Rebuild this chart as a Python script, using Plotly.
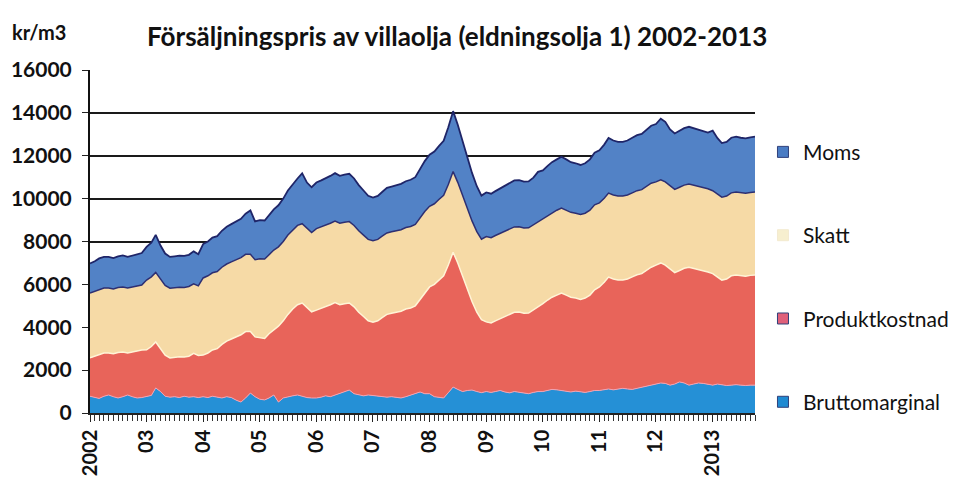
import plotly.graph_objects as go
import pandas as pd

# monthly values, kr/m3, Jan 2002 - Oct 2013
brutto = [
    780, 720, 680, 780, 840, 760, 700, 760, 840, 760, 700, 720,
    760, 820, 1170, 1000, 780, 740, 760, 720, 780, 740, 760, 720,
    760, 720, 780, 740, 700, 760, 720, 600, 510, 700, 930, 760,
    640, 610, 700, 840, 510, 700, 760, 800, 840, 780, 720, 700,
    700, 740, 800, 760, 840, 900, 980, 1070, 900, 840, 800, 840,
    820, 780, 760, 740, 760, 720, 700, 760, 840, 900, 980, 900,
    900, 760, 720, 700, 950, 1210, 1100, 1000, 1050, 1070, 1000, 950,
    1000, 960, 1000, 1050, 980, 940, 1000, 960, 930, 900, 960, 1000,
    1000, 1050, 1100, 1080, 1050, 1000, 980, 1020, 1000, 960, 1000, 1050,
    1050, 1100, 1120, 1080, 1100, 1150, 1120, 1100, 1150, 1200, 1250, 1300,
    1350, 1400, 1380, 1300, 1350, 1450, 1400, 1300, 1350, 1400, 1380, 1350,
    1300, 1350, 1300, 1280, 1300, 1320, 1300, 1280, 1300, 1300,
]
produkt = [
    1790, 1930, 2070, 2020, 1960, 2000, 2120, 2090, 1960, 2090, 2200, 2220,
    2190, 2280, 2140, 2000, 1920, 1830, 1840, 1900, 1830, 1910, 2020, 1960,
    1940, 2080, 2160, 2260, 2500, 2590, 2730, 2950, 3140, 3100, 2870, 2790,
    2860, 2870, 3000, 3060, 3540, 3600, 3840, 4050, 4210, 4350, 4180, 4020,
    4100, 4140, 4150, 4290, 4310, 4150, 4120, 4060, 4050, 3860, 3700, 3460,
    3420, 3520, 3690, 3860, 3890, 3980, 4050, 4090, 4060, 4100, 4320, 4700,
    4980, 5240, 5480, 5700, 5950, 6290, 5900, 5400, 4750, 4130, 3700, 3400,
    3250, 3240, 3300, 3350, 3500, 3660, 3700, 3750, 3720, 3760, 3840, 3940,
    4100, 4220, 4300, 4420, 4550, 4500, 4420, 4340, 4300, 4400, 4500, 4700,
    4830, 5000, 5220, 5170, 5100, 5050, 5130, 5250, 5300, 5300, 5400, 5500,
    5550, 5600, 5520, 5400, 5200, 5200, 5350, 5500, 5400, 5300, 5270, 5230,
    5200, 5000, 4900, 4970, 5100, 5120, 5100, 5100, 5120, 5140,
]
skatt = [
    3030, 3030, 3030, 3030, 3030, 3030, 3030, 3030, 3030, 3030, 3030, 3030,
    3250, 3250, 3250, 3250, 3250, 3250, 3250, 3250, 3250, 3250, 3250, 3250,
    3600, 3600, 3600, 3600, 3600, 3600, 3600, 3600, 3600, 3600, 3600, 3600,
    3700, 3700, 3700, 3700, 3700, 3700, 3700, 3700, 3700, 3700, 3700, 3700,
    3800, 3800, 3800, 3800, 3800, 3800, 3800, 3800, 3800, 3800, 3800, 3800,
    3800, 3800, 3800, 3800, 3800, 3800, 3800, 3800, 3800, 3800, 3800, 3800,
    3760, 3760, 3760, 3760, 3760, 3760, 3760, 3760, 3760, 3760, 3760, 3760,
    3980, 3980, 3980, 3980, 3980, 3980, 3980, 3980, 3980, 3980, 3980, 3980,
    3960, 3960, 3960, 3960, 3960, 3960, 3960, 3960, 3960, 3960, 3960, 3960,
    3920, 3920, 3920, 3920, 3920, 3920, 3920, 3920, 3920, 3920, 3920, 3920,
    3880, 3880, 3880, 3880, 3880, 3880, 3880, 3880, 3880, 3880, 3880, 3880,
    3870, 3870, 3870, 3870, 3870, 3870, 3870, 3870, 3870, 3870,
]
moms = [
    1380, 1400, 1430, 1450, 1450, 1440, 1460, 1470, 1450, 1470, 1480, 1490,
    1550, 1590, 1750, 1560, 1490, 1460, 1460, 1470, 1470, 1480, 1510, 1480,
    1580, 1600, 1640, 1650, 1700, 1740, 1760, 1790, 1810, 1900, 2050, 1790,
    1800, 1800, 1850, 1900, 1940, 2000, 2080, 2140, 2190, 2350, 2150, 2110,
    2150, 2170, 2190, 2210, 2240, 2210, 2220, 2230, 2190, 2130, 2080, 2030,
    2010, 2030, 2060, 2100, 2110, 2130, 2140, 2160, 2180, 2200, 2280, 2350,
    2410, 2440, 2490, 2540, 2670, 2820, 2690, 2540, 2390, 2240, 2120, 2030,
    2060, 2050, 2070, 2100, 2120, 2150, 2170, 2170, 2160, 2160, 2200, 2330,
    2260, 2300, 2340, 2370, 2390, 2370, 2340, 2330, 2310, 2330, 2370, 2430,
    2450, 2500, 2570, 2540, 2530, 2530, 2540, 2570, 2590, 2600, 2640, 2680,
    2700, 2850, 2800, 2650, 2610, 2630, 2660, 2670, 2660, 2650, 2630, 2620,
    2800, 2600, 2520, 2530, 2570, 2580, 2570, 2560, 2570, 2580,
]

year_labels = ["2002", "03", "04", "05", "06", "07", "08", "09", "10", "11", "12", "2013"]
months = pd.date_range("2002-01-01", periods=len(brutto), freq="MS")
year_ticks = pd.date_range("2002-01-01", periods=len(year_labels), freq="YS")

font = "Lato, 'Open Sans', sans-serif"

# name, values, fill, top line, line width, legend marker colour, legend rank
series = [
    ("Bruttomarginal", brutto, "#2590d6", "#f0a3b4", 1, "#1f8ad2", 4),
    ("Produktkostnad", produkt, "#e8645a", "#fff4d6", 1.5, "#e0607a", 3),
    ("Skatt", skatt, "#f6daa6", "#2d2f72", 1.5, "#f7efcf", 2),
    ("Moms", moms, "#5282c6", "#1f2568", 1.8, "#4a7cc4", 1),
]

fig = go.Figure()
for name, vals, fillc, linec, lw, mc, rank in series:
    fig.add_trace(go.Scatter(
        x=months, y=vals, name=name, mode="lines",
        stackgroup="one", showlegend=False,
        fillcolor=fillc, line=dict(color=linec, width=lw),
    ))
# square legend keys
for name, vals, fillc, linec, lw, mc, rank in series:
    fig.add_trace(go.Scatter(
        x=[None], y=[None], name=name, mode="markers",
        legendgroup=name, legendrank=rank,
        marker=dict(symbol="square", size=11, color=mc,
                    line=dict(color="#30407a" if rank != 2 else "#f3ead0", width=1)),
    ))

fig.update_xaxes(
    range=[months[0], months[-1]], automargin=False,
    tickvals=year_ticks, ticktext=year_labels, tickangle=-90,
    ticks="outside", ticklen=7, tickcolor="#222",
    minor=dict(dtick="M1", ticks="outside", ticklen=6, tickcolor="#333", showgrid=False),
    showgrid=False, showline=True, linecolor="#222", linewidth=1.5,
    tickfont=dict(family=font, size=20, color="#111", weight="bold"),
)
fig.update_yaxes(
    range=[0, 16000], dtick=2000, tickformat="d", automargin=False,
    ticks="outside", ticklen=6, tickcolor="#222", ticklabelstandoff=6,
    showgrid=True, gridcolor="#1a1a1a", gridwidth=1.5,
    showline=True, linecolor="#111", linewidth=2,
    tickfont=dict(family=font, size=21, color="#111", weight="bold"),
    zeroline=False,
)

fig.add_annotation(
    text="Försäljningspris av villaolja (eldningsolja 1) 2002-2013",
    xref="paper", yref="paper", x=0.082, y=1.10, xanchor="left", yanchor="middle",
    showarrow=False, font=dict(family=font, size=26, color="#111", weight="bold"),
)
fig.add_annotation(
    text="kr/m3",
    xref="paper", yref="paper", x=-0.12, y=1.11, xanchor="left", yanchor="middle",
    showarrow=False, font=dict(family=font, size=20, color="#111", weight="bold"),
)

# page body has an 8px margin, so the figure is sized and offset for that
fig.update_layout(
    width=954, height=475,
    margin=dict(l=82, r=207, t=62, b=70, autoexpand=False),
    paper_bgcolor="white", plot_bgcolor="white",
    font=dict(family=font, color="#111"),
    legend=dict(
        x=1.012, y=0.82, xanchor="left", yanchor="top",
        traceorder="grouped", tracegroupgap=53,
        font=dict(family=font, size=21, color="#111"),
        itemwidth=30,
    ),
)

fig.write_html("out.html")
